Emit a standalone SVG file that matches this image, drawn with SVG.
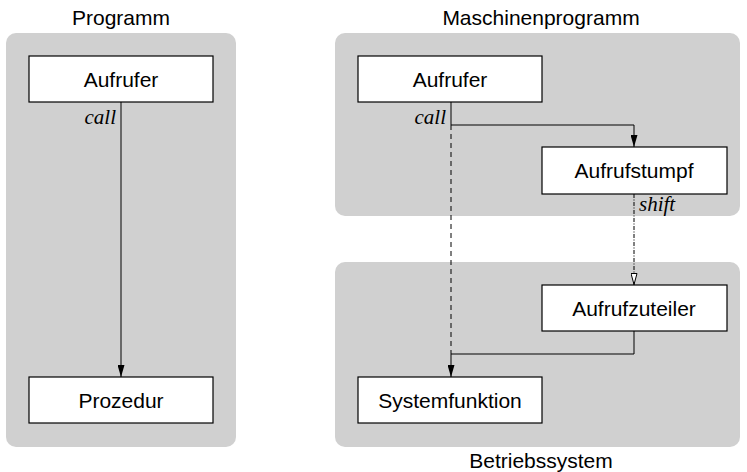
<svg xmlns="http://www.w3.org/2000/svg" width="747" height="472" viewBox="0 0 747 472">
<defs>
<style>
.panel{fill:#d0d0d0;stroke:none}
.box{fill:#fff;stroke:#000;stroke-width:1.2}
.lbl{font-family:"Liberation Sans",Arial,sans-serif;font-size:21px;fill:#000;text-anchor:middle}
.it{font-family:"Liberation Serif","Times New Roman",serif;font-style:italic;font-size:21px;fill:#000}
.ln{fill:none;stroke:#000;stroke-width:1}
</style>
<marker id="ah" markerWidth="12" markerHeight="7" refX="12" refY="3.5" orient="auto" markerUnits="userSpaceOnUse">
<path d="M0,0 L12,3.5 L0,7 z" fill="#000"/>
</marker>
<marker id="aho" markerWidth="12" markerHeight="7" refX="12" refY="3.5" orient="auto" markerUnits="userSpaceOnUse">
<path d="M0.5,0.5 L11.5,3.5 L0.5,6.5 z" fill="#fff" stroke="#000" stroke-width="1"/>
</marker>
</defs>
<rect width="747" height="472" fill="#fff"/>
<g id="panels">
<rect class="panel" x="6" y="33" width="230" height="414" rx="10"/>
<rect class="panel" x="335" y="33" width="405" height="183" rx="10"/>
<rect class="panel" x="335" y="262" width="405" height="185" rx="10"/>
<text class="lbl" x="121" y="25">Programm</text>
<text class="lbl" x="541" y="25">Maschinenprogramm</text>
<text class="lbl" x="541" y="468">Betriebssystem</text>
</g>
<g id="connectors">
<line class="ln" x1="121" y1="102" x2="121" y2="377" marker-end="url(#ah)"/>
<text class="it" x="116" y="124" text-anchor="end">call</text>
<polyline class="ln" points="451,102 451,125 634,125 634,147" marker-end="url(#ah)"/>
<line class="ln" x1="451" y1="125" x2="451" y2="354" stroke-dasharray="5,4"/>
<text class="it" x="446" y="124" text-anchor="end">call</text>
<line class="ln" x1="634" y1="194" x2="634" y2="285" stroke-dasharray="4,1.5,1,1.5" marker-end="url(#aho)"/>
<text class="it" x="639" y="211">shift</text>
<polyline class="ln" points="634,331 634,354 451,354 451,377" marker-end="url(#ah)"/>
</g>
<g id="n-aufrufer1">
<rect class="box" x="29" y="56" width="184" height="46"/>
<text class="lbl" x="121" y="86.5">Aufrufer</text>
</g>
<g id="n-prozedur">
<rect class="box" x="29" y="377" width="184" height="46"/>
<text class="lbl" x="121" y="407.5">Prozedur</text>
</g>
<g id="n-aufrufer2">
<rect class="box" x="358" y="56" width="184" height="46"/>
<text class="lbl" x="450" y="86.5">Aufrufer</text>
</g>
<g id="n-aufrufstumpf">
<rect class="box" x="542" y="147" width="185" height="47"/>
<text class="lbl" x="634" y="178">Aufrufstumpf</text>
</g>
<g id="n-aufrufzuteiler">
<rect class="box" x="542" y="285" width="185" height="46"/>
<text class="lbl" x="634" y="315.5">Aufrufzuteiler</text>
</g>
<g id="n-systemfunktion">
<rect class="box" x="358" y="377" width="184" height="46"/>
<text class="lbl" x="450" y="407.5">Systemfunktion</text>
</g>
</svg>
